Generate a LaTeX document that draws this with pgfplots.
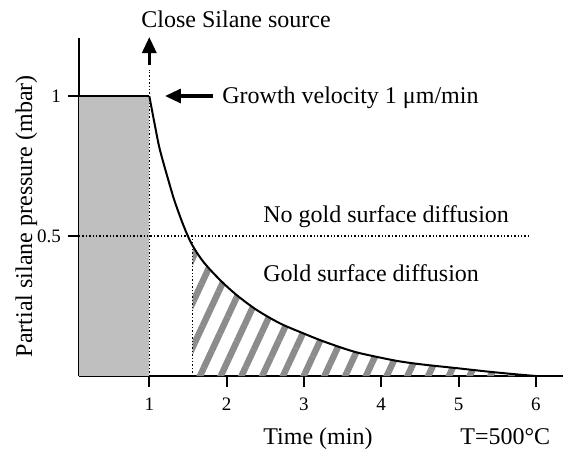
\documentclass[border=0pt]{standalone}
\usepackage{fontspec}
\setmainfont{Liberation Serif}
\usepackage{pgfplots}
\pgfplotsset{compat=1.18}
\usepgfplotslibrary{fillbetween}
\usetikzlibrary{arrows.meta,patterns.meta}

\newcommand{\txt}{\fontsize{12}{14}\selectfont}

\begin{document}
\begin{tikzpicture}
\begin{axis}[
  scale only axis,
  width=242pt, height=169pt,
  xmin=0.0906, xmax=6.352,
  ymin=0, ymax=1.2071,
  axis x line=bottom, axis y line=left,
  axis line style={-, line width=1pt},
  tick align=outside,
  major tick length=5.5pt,
  tick style={black, line width=1pt},
  xtick={1,2,3,4,5,6},
  ytick={0.5,1},
  yticklabels={0.5,1},
  /pgf/number format/assume math mode=true,
  ticklabel style={font=\fontsize{9.5}{11}\selectfont},
  xticklabel style={yshift=-2pt},
  clip=false,
]
% gray block before the source is closed
\addplot[draw=none, fill=gray!50] coordinates {(0.0906,0) (0.0906,1) (1,1) (1,0)} -- cycle;
\addplot[black, line width=1pt] coordinates {(0.0906,1) (1,1)};

% pressure decay
\addplot[name path=decay, black, line width=1pt, smooth] coordinates {
  (1.000,1.000)
  (1.074,0.893)
  (1.138,0.807)
  (1.268,0.679)
  (1.332,0.621)
  (1.440,0.539)
  (1.549,0.471)
  (1.699,0.408)
  (1.915,0.343)
  (2.131,0.289)
  (2.389,0.236)
  (2.691,0.188)
  (2.992,0.1525)
  (3.251,0.124)
  (3.554,0.095)
  (3.765,0.079)
  (4.204,0.054)
  (4.541,0.041)
  (4.981,0.028)
  (5.408,0.015)
  (5.750,0.006)
  (6.000,0.000)
};
\addplot[name path=base, draw=none] coordinates {(1,0) (6,0)};
\addplot[draw=none, pattern={Lines[angle=65, distance=9.4pt, line width=3.2pt]}, pattern color=gray!90]
  fill between[of=decay and base, soft clip={domain=1.56:6}];

% guide lines
\addplot[densely dotted, line width=0.7pt] coordinates {(1,0) (1,1.093)};
\addplot[densely dotted, line width=0.7pt] coordinates {(0.0906,0.5) (5.938,0.5)};
\addplot[densely dotted, line width=0.7pt] coordinates {(1.56,0) (1.56,0.49)};

% arrows
\addplot[line width=1.6pt, -{Triangle[length=8pt, width=7pt]}] coordinates {(1,1.111) (1,1.2107)};
\addplot[line width=1.6pt, -{Triangle[length=8pt, width=7pt]}] coordinates {(1.824,1) (1.203,1)};

% texts
\node[anchor=base west, inner sep=0, font=\txt] at (axis cs:0.893,1.2429) {Close Silane source};
\node[anchor=base west, inner sep=0, font=\txt] at (axis cs:1.940,0.975) {Growth velocity 1 μm/min};
\node[anchor=base west, inner sep=0, font=\txt] at (axis cs:2.471,0.55) {No gold surface diffusion};
\node[anchor=base west, inner sep=0, font=\txt] at (axis cs:2.471,0.339) {Gold surface diffusion};
\node[anchor=base west, inner sep=0, font=\txt] at (axis cs:2.471,-0.2429) {Time (min)};
\node[anchor=base west, inner sep=0, font=\txt] at (axis cs:5.019,-0.2429) {T=500°C};
\node[rotate=90, anchor=base, inner sep=0, font=\txt] at (axis cs:-0.517,0.571) {Partial silane pressure (mbar)};

\coordinate (ll) at (axis cs:-0.9314,-0.2607);
\coordinate (ur) at (axis cs:6.365,1.3429);
\end{axis}
\pgfresetboundingbox
\path[use as bounding box] (ll) rectangle (ur);
\end{tikzpicture}
\end{document}
